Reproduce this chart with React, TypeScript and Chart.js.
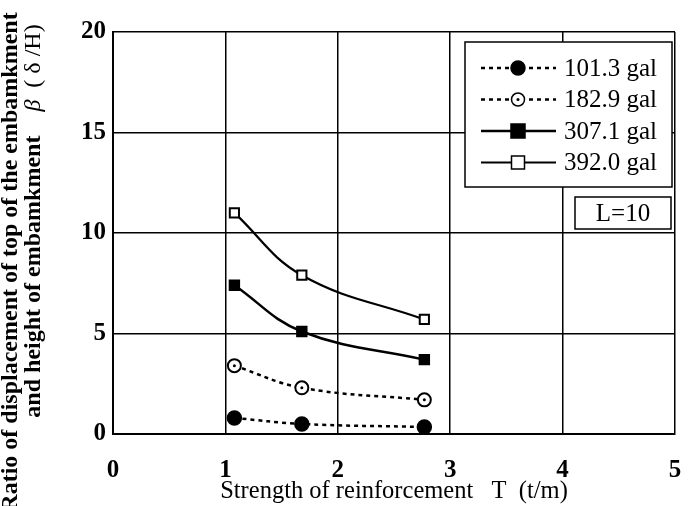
import React, { useEffect, useRef } from "react";
import { Chart, registerables } from "chart.js";

Chart.register(...registerables);

const tValues = [1.08, 1.68, 2.77];
const s101 = [0.8, 0.5, 0.35];
const s182 = [3.4, 2.3, 1.7];
const s307 = [7.4, 5.1, 3.7];
const s392 = [11.0, 7.9, 5.7];
const seriesLabels = ["101.3 gal", "182.9 gal", "307.1 gal", "392.0 gal"];
const xTickValues = [0, 1, 2, 3, 4, 5];
const yTickValues = [0, 5, 10, 15, 20];
const xTitle = "Strength of reinforcement   T  (t/m)";
const yTitle1 = "Ratio of displacement of top of the embamkment";
const yTitle2a = "and height of embamkment    ";
const yTitle2b = "\u03b2";
const yTitle2c = "  ( \u03b4 /H)";
const boxLabel = "L=10";

const SERIF = "'Liberation Serif', 'DejaVu Serif', serif";

const toPts = (ys: number[]) => ys.map((y, i) => ({ x: tValues[i], y }));

const customPlugin = {
  id: "custom",
  afterDraw(chart: any) {
    const ctx = chart.ctx;
    const ca = chart.chartArea;
    ctx.save();
    // Legend box
    const lx = ca.right - 210;
    const ly = ca.top + 10;
    const lw = 207;
    const lh = 145;
    ctx.fillStyle = "#fff";
    ctx.fillRect(lx, ly, lw, lh);
    ctx.strokeStyle = "#000";
    ctx.lineWidth = 1.5;
    ctx.strokeRect(lx, ly, lw, lh);
    chart.data.datasets.forEach((ds: any, i: number) => {
      const y = ly + 26 + i * 31.5;
      ctx.save();
      ctx.strokeStyle = "#000";
      ctx.lineWidth = ds.borderWidth;
      ctx.setLineDash(ds.borderDash || []);
      ctx.beginPath();
      ctx.moveTo(lx + 16, y);
      ctx.lineTo(lx + 91, y);
      ctx.stroke();
      ctx.setLineDash([]);
      const mx = lx + 53;
      ctx.fillStyle = ds.pointBackgroundColor;
      ctx.lineWidth = 1.5;
      ctx.beginPath();
      if (ds.pointStyle === "rect") {
        const r = ds.pointRadius;
        ctx.rect(mx - r, y - r, 2 * r, 2 * r);
      } else {
        ctx.arc(mx, y, ds.pointRadius, 0, Math.PI * 2);
      }
      ctx.fill();
      ctx.stroke();
      if (ds.centerDot) {
        ctx.fillStyle = "#000";
        ctx.beginPath();
        ctx.arc(mx, y, 1.5, 0, Math.PI * 2);
        ctx.fill();
      }
      ctx.restore();
      ctx.fillStyle = "#000";
      ctx.font = `25px ${SERIF}`;
      ctx.textBaseline = "middle";
      ctx.textAlign = "left";
      ctx.fillText(ds.label, lx + 99, y + 1);
    });
    // L=10 box
    const bx = ca.right - 100;
    const by = ca.top + 165;
    ctx.fillStyle = "#fff";
    ctx.fillRect(bx, by, 96, 32);
    ctx.strokeStyle = "#000";
    ctx.lineWidth = 1.5;
    ctx.strokeRect(bx, by, 96, 32);
    ctx.fillStyle = "#000";
    ctx.font = `25px ${SERIF}`;
    ctx.textAlign = "center";
    ctx.textBaseline = "middle";
    ctx.fillText(boxLabel, bx + 48, by + 17);

    // center dots for open circles
    chart.data.datasets.forEach((ds: any, i: number) => {
      if (!ds.centerDot) return;
      const meta = chart.getDatasetMeta(i);
      meta.data.forEach((pt: any) => {
        ctx.fillStyle = "#000";
        ctx.beginPath();
        ctx.arc(pt.x, pt.y, 1.5, 0, Math.PI * 2);
        ctx.fill();
      });
    });

    // Y title (two rotated lines)
    ctx.save();
    ctx.fillStyle = "#000";
    ctx.textBaseline = "middle";
    ctx.translate(11, 262);
    ctx.rotate(-Math.PI / 2);
    ctx.font = `bold 24px ${SERIF}`;
    ctx.textAlign = "center";
    ctx.fillText(yTitle1, 0, 0);
    ctx.restore();

    ctx.save();
    ctx.fillStyle = "#000";
    ctx.textBaseline = "middle";
    ctx.translate(34, 221);
    ctx.rotate(-Math.PI / 2);
    ctx.textAlign = "left";
    const fA = `bold 24px ${SERIF}`;
    const fB = `italic 24px ${SERIF}`;
    const fC = `24px ${SERIF}`;
    ctx.font = fA;
    const wA = ctx.measureText(yTitle2a).width;
    ctx.font = fB;
    const wB = ctx.measureText(yTitle2b).width;
    ctx.font = fC;
    const wC = ctx.measureText(yTitle2c).width;
    let x0 = -(wA + wB + wC) / 2;
    ctx.font = fA;
    ctx.fillText(yTitle2a, x0, 0);
    x0 += wA;
    ctx.font = fB;
    ctx.fillText(yTitle2b, x0, 0);
    x0 += wB;
    ctx.font = fC;
    ctx.fillText(yTitle2c, x0, 0);
    ctx.restore();

    ctx.restore();
  },
};

export default function App() {
  const ref = useRef<HTMLCanvasElement>(null);
  useEffect(() => {
    if (!ref.current) return;
    const chart = new Chart(ref.current, {
      type: "line",
      data: {
        datasets: [
          {
            label: seriesLabels[0],
            data: toPts(s101),
            borderColor: "#000",
            borderWidth: 2.5,
            borderDash: [4, 4],
            pointStyle: "circle",
            pointRadius: 7,
            pointBackgroundColor: "#000",
            pointBorderColor: "#000",
            pointBorderWidth: 1.5,
            tension: 0.4,
          } as any,
          {
            label: seriesLabels[1],
            data: toPts(s182),
            borderColor: "#000",
            borderWidth: 2.5,
            borderDash: [4, 4],
            pointStyle: "circle",
            pointRadius: 6.5,
            pointBackgroundColor: "#fff",
            pointBorderColor: "#000",
            pointBorderWidth: 2,
            centerDot: true,
            tension: 0.4,
          } as any,
          {
            label: seriesLabels[2],
            data: toPts(s307),
            borderColor: "#000",
            borderWidth: 2.5,
            pointStyle: "rect",
            pointRadius: 7,
            pointBackgroundColor: "#000",
            pointBorderColor: "#000",
            pointBorderWidth: 1.5,
            tension: 0.4,
          } as any,
          {
            label: seriesLabels[3],
            data: toPts(s392),
            borderColor: "#000",
            borderWidth: 2.2,
            pointStyle: "rect",
            pointRadius: 6.5,
            pointBackgroundColor: "#fff",
            pointBorderColor: "#000",
            pointBorderWidth: 2,
            tension: 0.4,
          } as any,
        ],
      },
      options: {
        responsive: false,
        animation: false,
        layout: { padding: { top: 32, right: 21, left: 0, bottom: 0 } },
        plugins: { legend: { display: false }, tooltip: { enabled: false } },
        scales: {
          x: {
            type: "linear",
            min: 0,
            max: 5,
            afterFit: (s: any) => {
              s.height = 72;
              s.paddingLeft = 0;
              s.paddingRight = 0;
            },
            afterBuildTicks: (s: any) => {
              s.ticks = xTickValues.map((v) => ({ value: v }));
            },
            grid: { color: "#000", lineWidth: 1.5, drawTicks: false },
            border: { color: "#000", width: 2 },
            ticks: {
              color: "#000",
              padding: 22,
              maxRotation: 0,
              font: { family: SERIF, size: 25, weight: "bold" },
            },
            title: {
              display: true,
              text: xTitle,
              color: "#000",
              padding: { top: 0, bottom: 0 },
              font: { family: SERIF, size: 24.5 },
            },
          },
          y: {
            type: "linear",
            min: 0,
            max: 20,
            afterFit: (s: any) => {
              s.width = 113;
            },
            afterBuildTicks: (s: any) => {
              s.ticks = yTickValues.map((v) => ({ value: v }));
            },
            grid: { color: "#000", lineWidth: 1.5, drawTicks: false },
            border: { color: "#000", width: 2 },
            ticks: {
              color: "#000",
              padding: 7,
              font: { family: SERIF, size: 25, weight: "bold" },
            },
          },
        },
      },
      plugins: [customPlugin],
    });
    return () => chart.destroy();
  }, []);
  return (
    <div style={{ position: "fixed", left: 0, top: 0, width: 696, height: 506, background: "#fff" }}>
      <canvas ref={ref} width={696} height={506} />
    </div>
  );
}
